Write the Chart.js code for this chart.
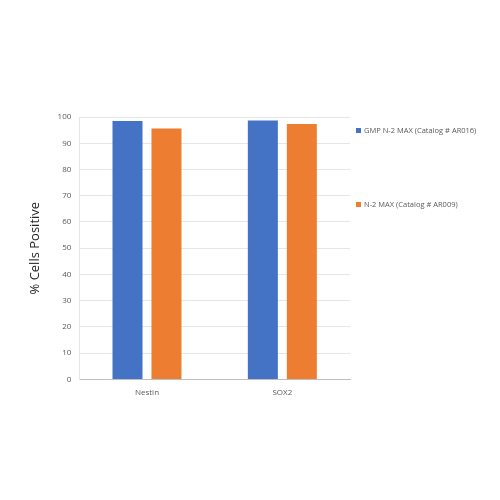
<!DOCTYPE html>
<html>
<head>
<meta charset="utf-8">
<script src="https://cdn.jsdelivr.net/npm/chart.js@4/dist/chart.umd.min.js"></script>
<style>
  html, body { margin: 0; padding: 0; background: #fff; }
  #wrap { width: 500px; height: 500px; position: relative; }
</style>
</head>
<body>
<div id="wrap"><canvas id="chart" width="500" height="500"></canvas></div>
<script>
const categories = ['Nestin', 'SOX2'];
const gmpValues = [98.5, 98.7];
const n2Values = [95.6, 97.3];
const seriesNames = ['GMP N-2 MAX (Catalog # AR016)', 'N-2 MAX (Catalog # AR009)'];

// simple side legend, items spaced far apart like the original
const sideLegend = {
  id: 'sideLegend',
  afterDraw(chart) {
    const c = chart.ctx;
    const area = chart.chartArea;
    const x = area.right + 6;
    const ys = [area.top + 14, area.top + 88];
    c.save();
    c.font = '7.5px "Open Sans"';
    c.textBaseline = 'middle';
    chart.data.datasets.forEach((ds, i) => {
      c.fillStyle = ds.backgroundColor;
      c.fillRect(x, ys[i] - 3, 5, 5);
      c.fillStyle = '#595959';
      c.fillText(ds.label, x + 8, ys[i]);
    });
    c.restore();
  }
};

const ctx = document.getElementById('chart').getContext('2d');
new Chart(ctx, {
  type: 'bar',
  data: {
    labels: categories,
    datasets: [
      { label: seriesNames[0], data: gmpValues, backgroundColor: '#4472c4' },
      { label: seriesNames[1], data: n2Values, backgroundColor: '#ed7d31' }
    ]
  },
  options: {
    responsive: false,
    animation: false,
    categoryPercentage: 0.576,
    barPercentage: 0.77,
    layout: { padding: { top: 117, bottom: 101, left: 20, right: 150 } },
    plugins: {
      legend: { display: false },
      tooltip: { enabled: false }
    },
    scales: {
      x: {
        grid: { display: false },
        border: { color: '#bfbfbf' },
        ticks: { color: '#595959', font: { family: 'Open Sans', size: 8 }, padding: 1 }
      },
      y: {
        min: 0,
        max: 100,
        ticks: { stepSize: 10, color: '#595959', font: { family: 'Open Sans', size: 8 }, padding: 8 },
        grid: { color: '#e6e6e6', drawTicks: false },
        border: { color: '#e6e6e6' },
        title: {
          display: true,
          text: '% Cells Positive',
          color: '#262626',
          font: { family: 'Open Sans', size: 13 },
          padding: { top: 7, bottom: 7 }
        }
      }
    }
  },
  plugins: [sideLegend]
});
</script>
</body>
</html>
